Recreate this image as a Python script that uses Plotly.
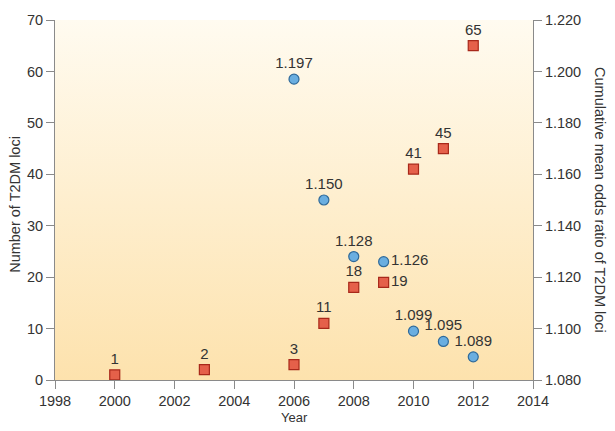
import plotly.graph_objects as go

# Data
loci_years = [2000, 2003, 2006, 2007, 2008, 2009, 2010, 2011, 2012]
loci_counts = [1, 2, 3, 11, 18, 19, 41, 45, 65]
loci_labels = ["1", "2", "3", "11", "18", "19", "41", "45", "65"]
loci_pos = ["top center"] * 5 + ["middle right"] + ["top center"] * 3

or_years = [2006, 2007, 2008, 2009, 2010, 2011, 2012]
or_values = [1.197, 1.150, 1.128, 1.126, 1.099, 1.095, 1.089]
or_labels = ["1.197", "1.150", "1.128", "1.126", "1.099", "1.095", "1.089"]
or_pos = ["top center", "top center", "top center", "middle right", "top center", "top center", "top center"]

x_range = [1998, 2014]
y_left_range = [0, 70]
y_right_range = [1.080, 1.220]

FONT = "Liberation Sans"
TXT = "#333333"
AX = "#8a8a8a"

fig = go.Figure()

# gradient background
fig.add_trace(go.Scatter(
    x=[x_range[0], x_range[1], x_range[1], x_range[0], x_range[0]],
    y=[y_left_range[0], y_left_range[0], y_left_range[1], y_left_range[1], y_left_range[0]],
    mode="lines", line=dict(width=0), fill="toself",
    fillgradient=dict(type="vertical", colorscale=[[0, "#fde2ad"], [1, "#fffbf0"]]),
    hoverinfo="skip", showlegend=False,
))

fig.add_trace(go.Scatter(
    x=loci_years, y=loci_counts, mode="markers+text",
    text=loci_labels, textposition=loci_pos,
    textfont=dict(family=FONT, size=15, color=TXT),
    marker=dict(symbol="square", size=10, color="#e5604a",
                line=dict(color="#a8281a", width=1.2)),
    showlegend=False, cliponaxis=False,
))

fig.add_trace(go.Scatter(
    x=or_years, y=or_values, mode="markers+text", yaxis="y2",
    text=or_labels, textposition=or_pos,
    textfont=dict(family=FONT, size=15, color=TXT),
    marker=dict(symbol="circle", size=10, color="#6aaee0",
                line=dict(color="#2f6a9a", width=1.2)),
    showlegend=False, cliponaxis=False,
))

axis_common = dict(
    showgrid=False, zeroline=False, showline=True, linecolor=AX, linewidth=1,
    ticks="outside", tickcolor=AX, ticklen=8, tickwidth=1,
    tickfont=dict(family=FONT, size=14.5, color=TXT),
)

fig.update_layout(
    width=615, height=431,
    margin=dict(l=55, r=82, t=13, b=51),
    paper_bgcolor="white", plot_bgcolor="white",
    xaxis=dict(range=x_range, dtick=2, tick0=1998, **axis_common),
    yaxis=dict(range=y_left_range, dtick=10, **axis_common),
    yaxis2=dict(range=y_right_range, dtick=0.02, tick0=1.08, tickformat=".3f",
                overlaying="y", side="right", **axis_common),
    annotations=[
        dict(text="Year", x=0.5, y=-0.104, xref="paper", yref="paper",
             xanchor="center", yanchor="middle", showarrow=False,
             font=dict(family=FONT, size=13, color=TXT)),
        dict(text="Number of T2DM loci", x=-0.084, y=0.489, xref="paper", yref="paper",
             xanchor="center", yanchor="middle", showarrow=False, textangle=-90,
             font=dict(family=FONT, size=14.5, color=TXT)),
        dict(text="Cumulative mean odds ratio of T2DM loci", x=1.14, y=0.50,
             xref="paper", yref="paper", xanchor="center", yanchor="middle",
             showarrow=False, textangle=90,
             font=dict(family=FONT, size=14.5, color=TXT)),
    ],
)

# remove the default page margin so the 615x431 figure sits at the window's corner
fig.write_html(
    "out.html",
    config={"displayModeBar": False},
    post_script="document.body.style.margin='0';document.body.style.overflow='hidden';",
)
